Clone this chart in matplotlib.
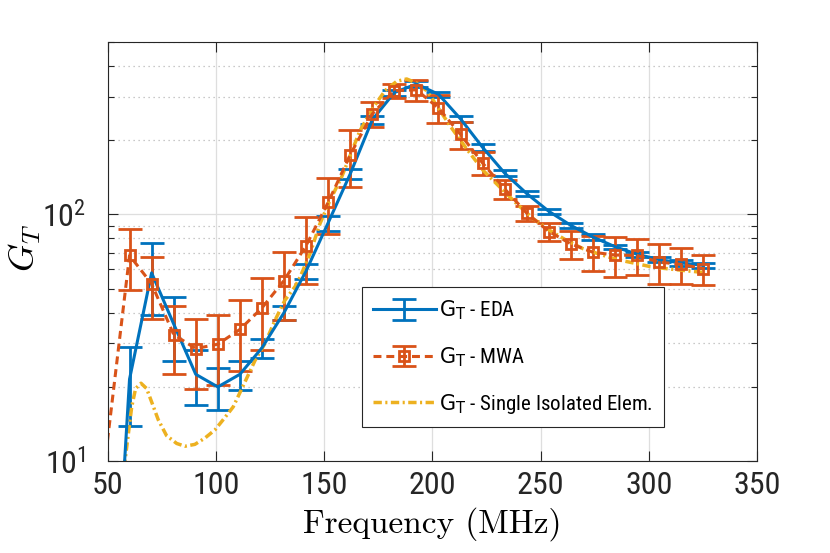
import matplotlib
matplotlib.use('Agg')
import matplotlib.pyplot as plt
from matplotlib import font_manager
from matplotlib.textpath import TextPath
from matplotlib.ticker import FixedLocator, FixedFormatter, NullFormatter, NullLocator, LogLocator

# pick the installed sans whose digits are closest to the narrow MATLAB-style ones
# (width of "350" / height of a digit is about 1.9 in the reference)
best = None
for f in font_manager.fontManager.ttflist:
    n = f.name
    if f.style != 'normal' or f.weight != 400:
        continue
    if not any(k in n for k in ('Sans', 'Roboto', 'Lato', 'Inter')):
        continue
    if any(k in n for k in ('Mono', 'CJK', 'Serif', 'Math', 'Symbol')):
        continue
    try:
        fp = font_manager.FontProperties(fname=f.fname)
        ext = TextPath((0, 0), '350', prop=fp, size=10).get_extents()
        ratio = ext.width / ext.height
    except Exception:
        continue
    score = abs(ratio - 1.9)
    if best is None or score < best[0]:
        best = (score, f.name, str(f.stretch), f.fname)

if best is None:
    best = (0, 'DejaVu Sans', 'normal', None)
narrow_name, narrow_stretch, narrow_file = best[1], best[2], best[3]
if narrow_file:
    narrow = font_manager.FontProperties(fname=narrow_file)
else:
    narrow = font_manager.FontProperties(family='DejaVu Sans')

plt.rcParams['mathtext.fontset'] = 'custom'
plt.rcParams['mathtext.rm'] = '%s:stretch=%s' % (narrow_name, narrow_stretch)
plt.rcParams['mathtext.it'] = 'cmmi10'

# frequency samples (MHz); first one lies just left of the axis
freq = [49.8, 60.0, 70.2, 80.4, 90.6, 100.8, 111.0, 121.2, 131.4, 141.6,
        151.8, 162.0, 172.2, 182.4, 192.6, 202.8, 213.0, 223.2, 233.4, 243.6,
        253.8, 264.0, 274.2, 284.4, 294.6, 304.8, 315.0, 325.2]

eda = [0.69, 21.5, 58.0, 36.0, 22.5, 20.0, 22.5, 28.8, 40.0, 59.0,
       92.5, 146.0, 242.0, 312.0, 338.0, 307.0, 244.0, 187.0, 147.0, 121.5,
       103.0, 90.3, 81.0, 74.0, 69.0, 65.6, 63.6, 62.2]
eda_err = [0, 7.6, 18.7, 10.5, 5.6, 3.8, 3.0, 2.6, 2.7, 4.0,
           6.5, 7.0, 9.0, 9.0, 10.0, 8.0, 7.0, 5.5, 4.0, 3.0,
           2.5, 2.0, 2.0, 1.5, 1.5, 1.5, 1.5, 1.5]

mwa = [12.1, 68.2, 52.4, 32.6, 28.6, 29.8, 34.2, 41.8, 54.0, 74.8,
       112.0, 174.6, 255.7, 317.6, 320.0, 270.0, 211.0, 161.5, 127.0, 101.2,
       85.3, 76.0, 70.3, 68.5, 68.2, 64.1, 62.8, 60.3]
mwa_err = [0, 19.0, 14.7, 10.0, 9.0, 9.5, 11.0, 13.7, 16.7, 22.7,
           29.0, 45.0, 30.0, 20.0, 32.0, 35.0, 26.0, 17.0, 11.0, 7.0,
           7.0, 10.0, 11.5, 12.5, 11.5, 12.0, 10.5, 8.5]

iso_freq = [57.5, 59.1, 61.0, 62.8, 65.3, 67.9, 70.2, 73.3, 77.1, 81.8,
            85.6, 90.2, 94.8, 99.5, 104.0, 107.9, 111.8, 118.0, 122.6, 127.2,
            131.8, 136.5, 138.8, 143.4, 148.0, 152.6, 158.0, 160.4, 166.5, 172.7,
            178.1, 183.5, 188.1, 192.7, 197.3, 200.4, 208.1, 215.8, 223.5, 231.2,
            239.0, 246.6, 254.3, 262.0, 269.7, 277.5, 285.2, 292.9, 300.6, 308.3,
            316.0, 323.7, 325.5]
iso = [9.4, 12.2, 16.6, 19.7, 20.7, 19.7, 17.4, 14.7, 12.7, 11.8,
       11.5, 11.7, 12.4, 13.4, 15.0, 16.6, 19.6, 25.6, 30.0, 37.2,
       44.9, 51.0, 55.7, 69.3, 91.7, 113.9, 141.6, 160.0, 218.6, 271.8,
       317.6, 346.6, 354.2, 340.6, 317.6, 290.0, 229.0, 184.5, 150.7, 129.0,
       110.5, 96.1, 86.1, 78.5, 72.6, 68.9, 65.7, 63.6, 61.5, 60.3,
       59.3, 58.4, 58.2]

labels = [r'$\mathrm{G_T}$ - EDA', r'$\mathrm{G_T}$ - MWA',
          r'$\mathrm{G_T}$ - Single Isolated Elem.']

blue = '#0072BD'
orange = '#D95319'
yellow = '#EDB120'

fig = plt.figure(figsize=(8.3, 5.53), dpi=100)
ax = fig.add_axes([0.130, 0.166, 0.782, 0.758])
ax.set_yscale('log')

eb1 = ax.errorbar(freq, eda, yerr=eda_err, color=blue, lw=2.2, elinewidth=2.0,
                  capsize=8.5, capthick=2.0, errorevery=(1, 1))
eb2 = ax.errorbar(freq, mwa, yerr=mwa_err, color=orange, lw=2.2, elinewidth=2.0,
                  capsize=8.5, capthick=2.0, errorevery=(1, 1), marker='s', ms=7,
                  mew=2.0, mfc='none', mec=orange)
eb2[0].set_dashes((2.6, 1.6))
eb2[0].set_markevery((1, 1))
iso_line, = ax.plot(iso_freq, iso, color=yellow, lw=2.5, dashes=(2.4, 1.0, 0.6, 1.0))

ax.set_xlim(50, 350)
ax.set_ylim(10, 500)
ax.set_xticks([50, 100, 150, 200, 250, 300, 350])
ax.xaxis.set_minor_locator(NullLocator())
ax.yaxis.set_major_locator(FixedLocator([10, 100]))
ax.yaxis.set_major_formatter(FixedFormatter([r'$\mathrm{10^{1}}$', r'$\mathrm{10^{2}}$']))
ax.yaxis.set_minor_locator(LogLocator(base=10, subs=[2, 3, 4, 5, 6, 7, 8, 9]))
ax.yaxis.set_minor_formatter(NullFormatter())

for lab in ax.get_xticklabels():
    lab.set_fontproperties(narrow)
    lab.set_fontsize(23)
ax.tick_params(axis='x', labelsize=23, pad=7)
ax.tick_params(axis='y', labelsize=23, pad=16)
ax.tick_params(which='both', direction='in', top=True, right=True, colors='#262626', width=0.8)
ax.tick_params(which='major', length=7)
ax.tick_params(which='minor', length=4)

ax.grid(which='major', color='#dedede', lw=0.9, ls='-')
ax.yaxis.grid(which='minor', color='#b8b8b8', lw=0.9, ls=(0, (1, 3)))
ax.set_axisbelow(True)
for s in ax.spines.values():
    s.set_color('#262626')
    s.set_linewidth(0.8)

ax.set_xlabel('Frequency (MHz)', fontfamily='cmr10', fontsize=24, labelpad=5)
ax.set_ylabel(r'$G_T$', fontsize=26)
ax.yaxis.set_label_coords(-0.10, 0.51)

leg_prop = narrow.copy()
leg_prop.set_size(15)
leg = ax.legend([eb1, eb2, iso_line], labels, loc='upper left',
                bbox_to_anchor=(0.391, 0.415), borderaxespad=0, prop=leg_prop,
                fancybox=False, framealpha=1, edgecolor='#262626',
                handlelength=3.0, handletextpad=0.15, labelspacing=1.1, borderpad=0.55)
leg.get_frame().set_linewidth(0.8)

fig.savefig('out.png', dpi=100)
